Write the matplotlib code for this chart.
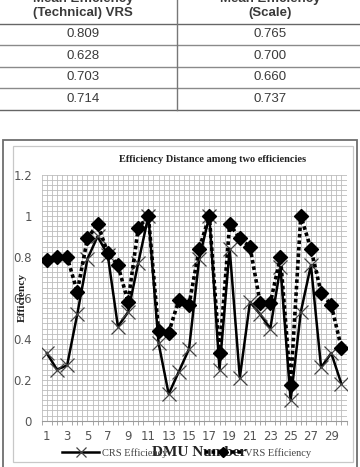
import matplotlib
matplotlib.use('Agg')
import matplotlib.pyplot as plt
from matplotlib.lines import Line2D
from matplotlib.patches import Rectangle
from matplotlib.ticker import MultipleLocator, FixedLocator

# table values
vrs_mean = ['0.809', '0.628', '0.703', '0.714']
scale_mean = ['0.765', '0.700', '0.660', '0.737']

# chart values
dmu = list(range(1, 31))
crs = [0.33, 0.25, 0.27, 0.52, 0.79, 0.90, 0.81, 0.46, 0.53, 0.77,
       1.00, 0.38, 0.13, 0.24, 0.35, 0.79, 1.00, 0.25, 0.84, 0.21,
       0.58, 0.52, 0.45, 0.75, 0.10, 0.53, 0.76, 0.26, 0.33, 0.18]
vrs = [0.785, 0.80, 0.80, 0.63, 0.89, 0.96, 0.82, 0.76, 0.58, 0.94,
       1.00, 0.44, 0.43, 0.59, 0.565, 0.84, 1.00, 0.33, 0.96, 0.89,
       0.85, 0.575, 0.575, 0.80, 0.175, 1.00, 0.84, 0.625, 0.565, 0.355]
xtick_labels = [str(i) for i in range(1, 30, 2)]
yticks = [0, 0.2, 0.4, 0.6, 0.8, 1.0, 1.2]
ytick_labels = ['0', '0.2', '0.4', '0.6', '0.8', '1', '1.2']

W, H = 360, 467
fig = plt.figure(figsize=(W / 100, H / 100), dpi=100)

def fx(px):
    return px / W

def fy(py):
    return 1 - py / H

# ---- table ----
txt_col = '#3a3a3a'
fig.text(fx(83), fy(-1), 'Mean Efficiency', ha='center', va='center',
         fontsize=9.5, fontweight='bold', color=txt_col, family='Liberation Sans')
fig.text(fx(83), fy(13), '(Technical) VRS', ha='center', va='center',
         fontsize=9.5, fontweight='bold', color=txt_col, family='Liberation Sans')
fig.text(fx(270), fy(-1), 'Mean Efficiency', ha='center', va='center',
         fontsize=9.5, fontweight='bold', color=txt_col, family='Liberation Sans')
fig.text(fx(270), fy(13), '(Scale)', ha='center', va='center',
         fontsize=9.5, fontweight='bold', color=txt_col, family='Liberation Sans')

row_lines = [23.5, 45, 66.5, 88, 110]
for i, yl in enumerate(row_lines):
    fig.add_artist(Line2D([0, 1], [fy(yl), fy(yl)], color='#666666' if i in (0, 4) else '#8a8a8a',
                          lw=1.0, transform=fig.transFigure))
fig.add_artist(Line2D([fx(177), fx(177)], [fy(0), fy(110)], color='#777777', lw=1.0,
                      transform=fig.transFigure))
for i in range(4):
    yc = (row_lines[i] + row_lines[i + 1]) / 2
    fig.text(fx(83), fy(yc), vrs_mean[i], ha='center', va='center', fontsize=9.5,
             color=txt_col, family='Liberation Sans')
    fig.text(fx(270), fy(yc), scale_mean[i], ha='center', va='center', fontsize=9.5,
             color=txt_col, family='Liberation Sans')

# ---- chart frames ----
fig.add_artist(Rectangle((fx(3), fy(470)), fx(357) - fx(3), fy(140) - fy(470),
                         fill=False, ec='#6e6e6e', lw=1.3, transform=fig.transFigure))
fig.add_artist(Rectangle((fx(13), fy(462)), fx(353) - fx(13), fy(146) - fy(462),
                         fill=False, ec='#c8c8c8', lw=0.9, transform=fig.transFigure))

ax = fig.add_axes([fx(41.7), fy(420.7), fx(346.5) - fx(41.7), fy(175) - fy(420.7)])

ax.plot(dmu, crs, color='black', lw=1.8, marker='x', markersize=10,
        markeredgecolor='#444444', markeredgewidth=0.9, label='CRS Efficiency', zorder=3)
ax.plot(dmu, vrs, color='black', lw=2.6, linestyle=(0, (1, 0.8)), marker='D',
        markersize=7, markerfacecolor='black', markeredgecolor='black',
        label='VRS Efficiency', zorder=4)

ax.set_xlim(0.5, 30.5)
ax.set_ylim(0, 1.2)
ax.set_yticks(yticks)
ax.set_yticklabels(ytick_labels)
ax.yaxis.set_minor_locator(MultipleLocator(0.025))
ax.xaxis.set_major_locator(FixedLocator(list(range(1, 30, 2))))
ax.set_xticklabels(xtick_labels)
ax.xaxis.set_minor_locator(MultipleLocator(0.5))

ax.grid(which='both', color='#bdbdbd', lw=0.6)
ax.set_axisbelow(True)
for s in ['top', 'right', 'left']:
    ax.spines[s].set_visible(False)
ax.spines['bottom'].set_color('#9a9a9a')
ax.tick_params(axis='y', which='both', length=0, labelsize=8.5, labelcolor='#555555', pad=7)
ax.tick_params(axis='x', which='major', length=0, labelsize=8.5, labelcolor='#555555', pad=7)
ax.tick_params(axis='x', which='minor', length=3, color='#9a9a9a')
ax.tick_params(axis='y', which='minor', length=0)

ax.set_ylabel('Efficiency', fontsize=8.2, fontweight='bold', family='Liberation Serif',
              color='#222222')
ax.yaxis.set_label_coords((27 - 41.7) / (346.5 - 41.7), 0.5)

fig.text(fx(213), fy(159), 'Efficiency Distance among two efficiencies', ha='center',
         va='center', fontsize=7.5, fontweight='bold', family='Liberation Serif', color='#222222')
fig.text(fx(199), fy(453), 'DMU Number', ha='center', va='center', fontsize=11,
         fontweight='bold', family='Liberation Serif', color='#222222')

fig.legend(loc='center', bbox_to_anchor=(fx(186.5), fy(453)), ncol=2, frameon=False,
           prop={'family': 'Liberation Serif', 'size': 7.5}, labelcolor='#444444',
           handlelength=3.5, columnspacing=3.6, handletextpad=0.3, markerscale=0.7)

fig.savefig('out.png', dpi=100)
